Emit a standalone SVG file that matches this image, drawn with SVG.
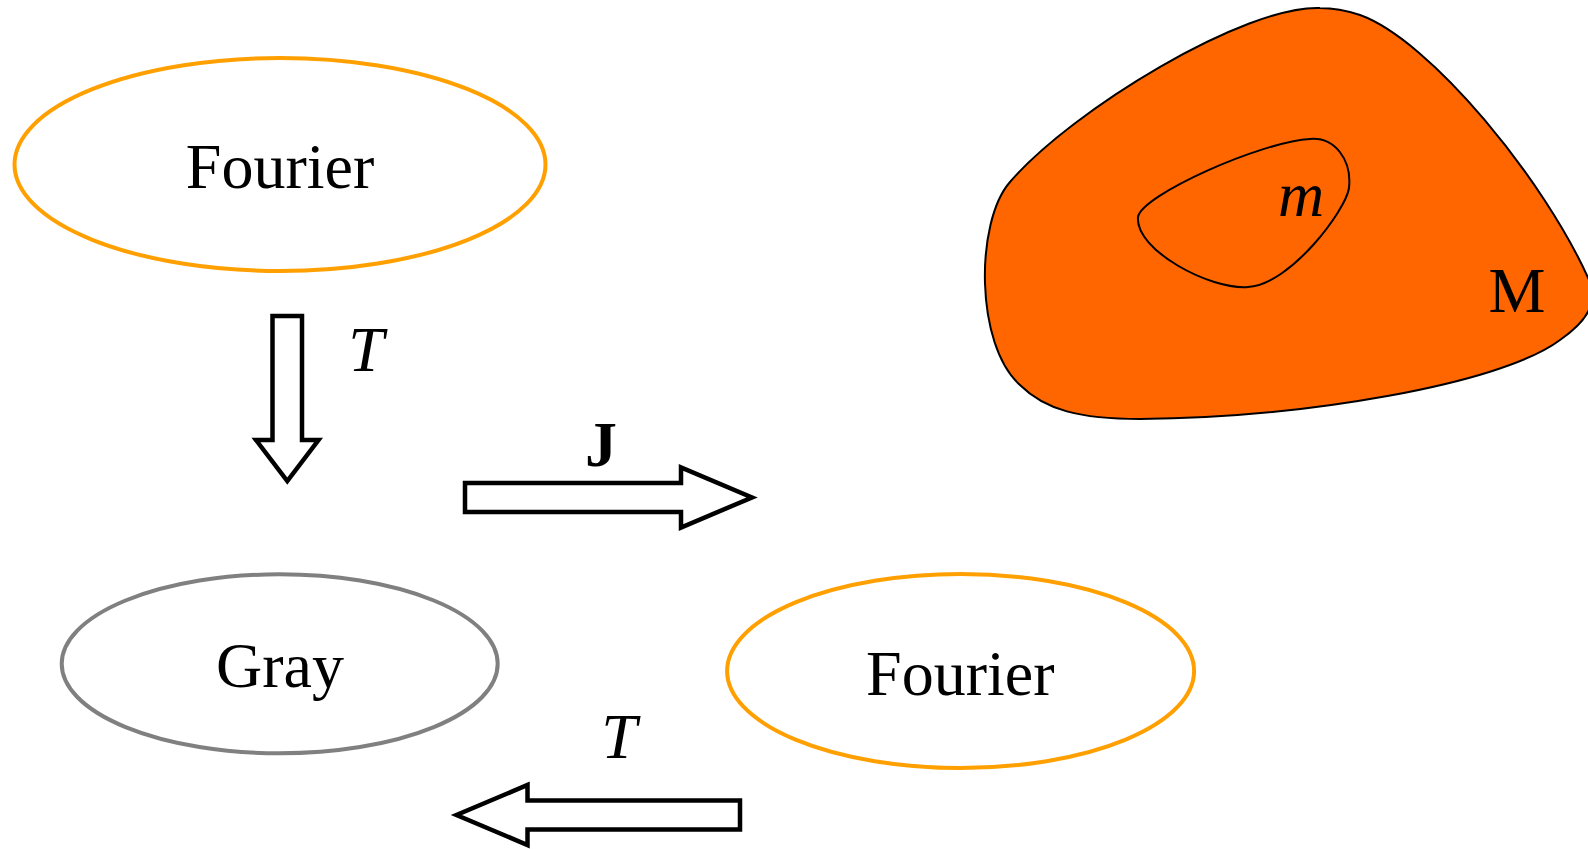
<svg xmlns="http://www.w3.org/2000/svg" width="1588" height="849" viewBox="0 0 1588 849">
  <style>
    .lbl { font-family: "Liberation Serif", "Times New Roman", serif; font-size: 64px; fill: #000; text-anchor: middle; }
    .it { font-style: italic; }
    .bd { font-weight: bold; }
    .ell { fill: #fff; stroke-width: 4; }
    .orange { stroke: #ffa000; }
    .gray { stroke: #808080; }
    .arrow { fill: #fff; stroke: #000; stroke-width: 4.5; stroke-linejoin: miter; }
    .blob { stroke: #000; stroke-width: 2; }
  </style>

  <rect width="1588" height="849" fill="#fff"/>

  <!-- set M with subset m -->
  <g id="set-M">
    <path class="blob" fill="#ff6600" d="M 1320,8 C 1245,5 1072,110 1010,182 C 975,222 975,345 1020,385 C 1045,410 1080,419 1140,419 C 1300,418 1500,385 1560,340 C 1592,318 1596,300 1590,282 C 1545,180 1430,40 1360,15 C 1345,10 1332,8 1320,8 Z"/>
    <text class="lbl" x="1517" y="312">M</text>
  </g>
  <g id="set-m">
    <path class="blob" fill="none" d="M 1310,139 C 1335,137 1352,160 1349,188 C 1346,210 1290,285 1248,287 C 1210,290 1135,250 1138,217 C 1142,195 1260,142 1310,139 Z"/>
    <text class="lbl it" x="1301" y="216">m</text>
  </g>

  <!-- nodes -->
  <g id="fourier-top">
    <ellipse class="ell orange" cx="280" cy="164.5" rx="265.5" ry="106.5"/>
    <text class="lbl" x="280" y="188">Fourier</text>
  </g>
  <g id="gray">
    <ellipse class="ell gray" cx="279.7" cy="663.8" rx="218" ry="89.5"/>
    <text class="lbl" x="280" y="687">Gray</text>
  </g>
  <g id="fourier-bottom">
    <ellipse class="ell orange" cx="960.6" cy="671" rx="233.5" ry="97"/>
    <text class="lbl" x="960.3" y="695">Fourier</text>
  </g>

  <!-- connectors -->
  <g id="connectors">
    <g id="arrow-T-down">
      <polygon class="arrow" points="272.5,316 302,316 302,440 318.5,440 287.3,481 256,440 272.5,440"/>
      <text class="lbl it" x="366" y="371">T</text>
    </g>
    <g id="arrow-J">
      <polygon class="arrow" points="465,483 681,483 681,467.5 752,497.5 681,527.5 681,512 465,512"/>
      <text class="lbl bd" x="601" y="466">J</text>
    </g>
    <g id="arrow-T-left">
      <polygon class="arrow" points="740,800.5 527.5,800.5 527.5,785 456.5,815 527.5,845 527.5,829.5 740,829.5"/>
      <text class="lbl it" x="619" y="758">T</text>
    </g>
  </g>
</svg>
